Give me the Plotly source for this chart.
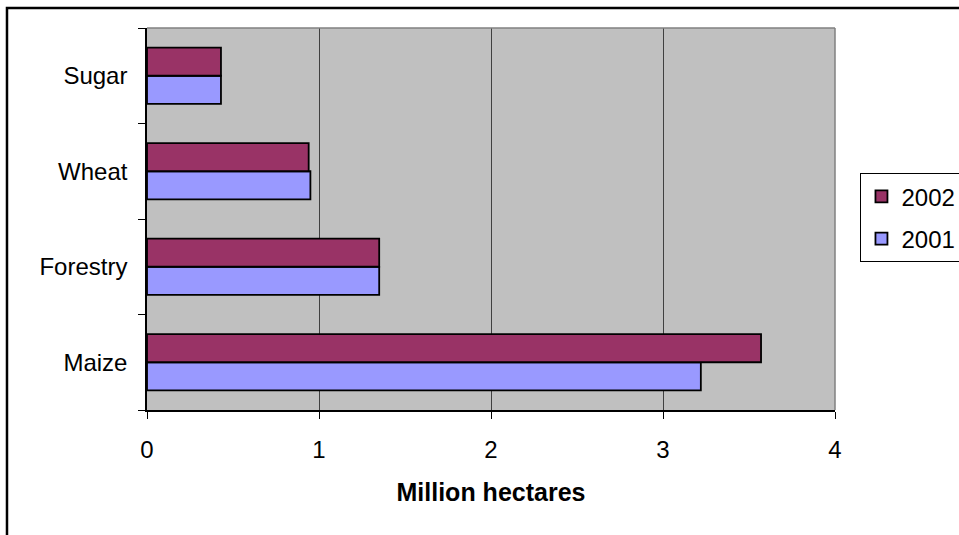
import plotly.graph_objects as go

categories = ["Maize", "Forestry", "Wheat", "Sugar"]
values_2001 = [3.22, 1.35, 0.95, 0.43]
values_2002 = [3.57, 1.35, 0.94, 0.43]
x_ticks = [0, 1, 2, 3, 4]

font_family = "Liberation Sans, Arial, sans-serif"

fig = go.Figure()
fig.add_trace(go.Bar(
    y=categories, x=values_2001, orientation="h", name="2001", legendgroup="a",
    legendrank=2,
    marker=dict(color="#9999FF", line=dict(color="black", width=1.8)),
))
fig.add_trace(go.Bar(
    y=categories, x=values_2002, orientation="h", name="2002", legendgroup="b",
    legendrank=1,
    marker=dict(color="#993366", line=dict(color="black", width=1.8)),
))

fig.update_layout(
    width=959, height=535,
    margin=dict(l=147, r=124, t=28, b=125, autoexpand=False),
    barmode="group", bargap=0.41, bargroupgap=0,
    plot_bgcolor="#C0C0C0", paper_bgcolor="white",
    font=dict(family=font_family, size=24, color="black"),
    legend=dict(
        traceorder="grouped", x=1.037, y=0.503, xanchor="left", yanchor="middle",
        bgcolor="white", bordercolor="black", borderwidth=1,
        font=dict(size=24), tracegroupgap=8,
    ),
    xaxis=dict(
        range=[0, 4], tickvals=x_ticks, ticktext=[str(v) for v in x_ticks],
        showgrid=True, gridcolor="#404040", gridwidth=1,
        showline=True, linecolor="black", linewidth=1.5,
        ticks="outside", ticklen=7, tickcolor="black",
        ticklabelstandoff=10, zeroline=False,
        title=dict(text="<b>Million hectares</b>", font=dict(size=25), standoff=22),
    ),
    yaxis=dict(
        categoryorder="array", categoryarray=categories,
        showline=True, linecolor="black", linewidth=1.5,
        ticks="outside", ticklen=7, tickcolor="black", tickson="boundaries",
        showgrid=False, ticklabelstandoff=13,
    ),
    shapes=[
        dict(type="line", xref="paper", yref="paper", x0=0, x1=1, y0=1, y1=1,
             line=dict(color="#808080", width=1.5)),
        dict(type="line", xref="paper", yref="paper", x0=1, x1=1, y0=0, y1=1,
             line=dict(color="#808080", width=1.5)),
        dict(type="rect", xref="paper", yref="paper", x0=-0.2035, x1=1.5,
             y0=-0.6, y1=1.0524, line=dict(color="black", width=2.5)),
    ],
)

fig.write_html("out.html", config={"displayModeBar": False},
               post_script="document.body.style.margin='0';")
